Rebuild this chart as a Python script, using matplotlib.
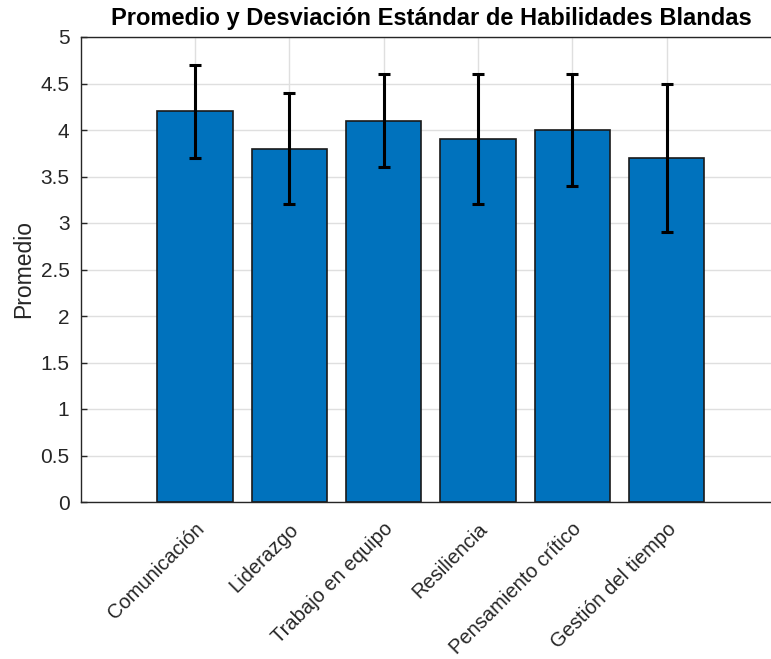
import numpy as np
import matplotlib
matplotlib.use("Agg")
from matplotlib import pyplot as plt
from matplotlib import transforms

habilidades = ["Comunicación", "Liderazgo", "Trabajo en equipo",
               "Resiliencia", "Pensamiento crítico", "Gestión del tiempo"]
promedios = [4.2, 3.8, 4.1, 3.9, 4.0, 3.7]
desviaciones = [0.5, 0.6, 0.5, 0.7, 0.6, 0.8]
y_ticks = [0, 0.5, 1, 1.5, 2, 2.5, 3, 3.5, 4, 4.5, 5]

plt.rcParams['font.family'] = ['Liberation Sans', 'DejaVu Sans']

fig = plt.figure(figsize=(7.71, 6.59), dpi=100)
# the right edge of the axes runs past the figure, as in the reference
ax = fig.add_axes([80.5 / 771, 157 / 659, 700.7 / 771, 465 / 659])

x = np.arange(1, len(habilidades) + 1)
ax.bar(x, promedios, width=0.8, color='#0072BD', edgecolor='#1a1a1a',
       linewidth=1.2, zorder=2)
ax.errorbar(x, promedios, yerr=desviaciones, fmt='none', ecolor='black',
            elinewidth=2.2, capsize=4.5, capthick=2.2, zorder=3)

ax.set_xlim(-0.215, 7.215)
ax.set_ylim(0, 5)
ax.set_yticks(y_ticks)
ax.set_yticklabels([f"{v:g}" for v in y_ticks])
ax.set_xticks(x)
ax.set_xticklabels(habilidades, rotation=45, ha='right', va='top')
ax.tick_params(axis='both', direction='in', length=4, width=1,
               colors='#262626', labelsize=15, pad=8)
ax.tick_params(axis='x', pad=12.5, labelsize=14.5)
# tick_params resets label transforms, so shift afterwards
shift = transforms.ScaledTranslation(13 / 100, 0, fig.dpi_scale_trans)
for lbl in ax.get_xticklabels():
    lbl.set_transform(lbl.get_transform() + shift)
ax.grid(True, color='#dfdfdf', linewidth=1, zorder=0)
ax.set_axisbelow(True)
for side in ['left', 'bottom', 'top', 'right']:
    ax.spines[side].set_color('#262626')
    ax.spines[side].set_linewidth(1)

ax.set_ylabel("Promedio", fontsize=16.5, color='#262626', labelpad=4)
fig.text(0.56, 0.972, "Promedio y Desviación Estándar de Habilidades Blandas",
         ha='center', va='center', fontsize=17, fontweight='bold')

fig.savefig("out.png", dpi=100)
